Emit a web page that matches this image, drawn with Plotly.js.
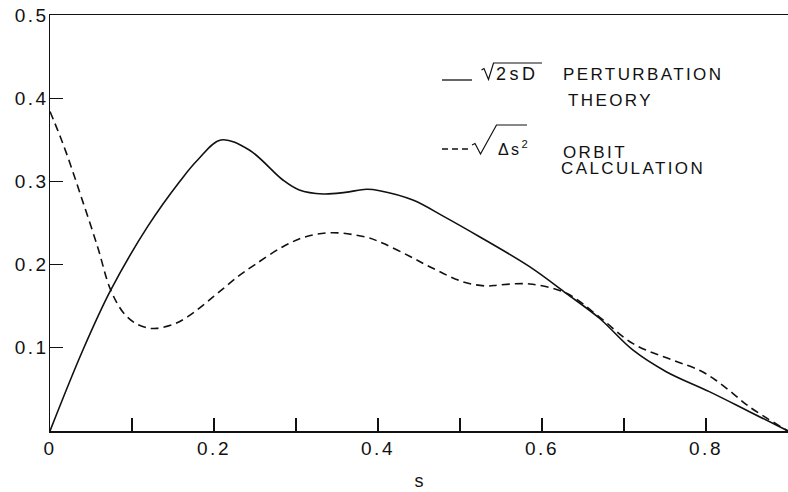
<!DOCTYPE html>
<html>
<head>
<meta charset="utf-8">
<script src="https://cdn.plot.ly/plotly-3.0.1.min.js"></script>
<style>
  html, body { margin: 0; padding: 0; background: #fff; }
  #chart { width: 788px; height: 492px; }
  .xtick text, .ytick text { letter-spacing: 2.5px; }
  .annotation-text { letter-spacing: 2.4px; }
</style>
</head>
<body>
<div id="chart"></div>
<script>
// ---- data ----
const sPerturbation = [0, 0.04, 0.0742, 0.119, 0.1596, 0.18, 0.2083, 0.243, 0.284, 0.304, 0.333, 0.36, 0.386, 0.402, 0.4425, 0.48, 0.5238, 0.5848, 0.6295, 0.67, 0.7107, 0.7515, 0.804, 0.853, 0.9];
const yPerturbation = [0, 0.097, 0.1695, 0.2456, 0.3017, 0.3257, 0.3498, 0.3377, 0.3017, 0.2897, 0.2849, 0.2868, 0.2905, 0.2888, 0.2776, 0.258, 0.2335, 0.1975, 0.1655, 0.1355, 0.0974, 0.0713, 0.0473, 0.0232, 0];

const sOrbit = [0, 0.01, 0.02, 0.038, 0.058, 0.074, 0.09, 0.105, 0.12, 0.13, 0.15, 0.168, 0.2, 0.229, 0.25, 0.284, 0.312, 0.345, 0.386, 0.406, 0.438, 0.463, 0.503, 0.532, 0.548, 0.585, 0.63, 0.67, 0.711, 0.76, 0.792, 0.812, 0.833, 0.853, 0.9];
const yOrbit = [0.384, 0.36, 0.334, 0.2816, 0.2215, 0.1695, 0.1415, 0.129, 0.1236, 0.1234, 0.128, 0.1374, 0.162, 0.1855, 0.2, 0.2215, 0.2335, 0.2383, 0.2328, 0.2256, 0.2103, 0.1975, 0.1795, 0.1743, 0.1755, 0.1767, 0.1655, 0.137, 0.105, 0.085, 0.073, 0.061, 0.045, 0.029, 0];

const xTickVals = [0, 0.1, 0.2, 0.3, 0.4, 0.5, 0.6, 0.7, 0.8, 0.9];
const xTickText = ['0', '', '0.2', '', '0.4', '', '0.6', '', '0.8', ''];
const yTickVals = [0.1, 0.2, 0.3, 0.4, 0.5];
const yTickText = ['0.1', '0.2', '0.3', '0.4', '0.5'];

const xTitle = 's';
const legendPerturbation = ['2sD', 'PERTURBATION', 'THEORY'];
const legendOrbit = ['Δs<sup>2</sup>', 'ORBIT', 'CALCULATION'];

// ---- layout helpers (pixel -> paper) ----
const W = 788, H = 492;
const M = {l: 50, r: 0, t: 15, b: 61};
const PW = W - M.l - M.r, PH = H - M.t - M.b;
const px = x => (x - M.l) / PW;
const py = y => (H - M.b - y) / PH;
const FONT = 'Liberation Sans, Arial, sans-serif';

const traces = [
  {x: sPerturbation, y: yPerturbation, type: 'scatter', mode: 'lines',
   line: {color: '#111', width: 1.6, shape: 'spline', smoothing: 1}, name: 'perturbation', showlegend: false},
  {x: sOrbit, y: yOrbit, type: 'scatter', mode: 'lines',
   line: {color: '#111', width: 1.6, shape: 'spline', smoothing: 1, dash: '8px,5px'}, name: 'orbit', showlegend: false}
];

function path(pts) {
  return pts.map((p, i) => (i ? 'L' : 'M') + px(p[0]).toFixed(5) + ',' + py(p[1]).toFixed(5)).join(' ');
}

const shapes = [
  // legend sample lines
  {type: 'line', xref: 'paper', yref: 'paper', x0: px(442), x1: px(472), y0: py(80), y1: py(80), line: {color: '#111', width: 1.3}},
  {type: 'line', xref: 'paper', yref: 'paper', x0: px(442), x1: px(472), y0: py(149), y1: py(149), line: {color: '#111', width: 1.3, dash: '6px,4px'}},
  // radical signs
  {type: 'path', xref: 'paper', yref: 'paper', path: path([[481.5,70],[484,68.5],[488.5,79.5],[493.5,63],[542,63]]), line: {color: '#111', width: 1.2}},
  {type: 'path', xref: 'paper', yref: 'paper', path: path([[472,145],[475,143.5],[480.5,154],[496.5,125],[527,125]]), line: {color: '#111', width: 1.2}}
];

const annFont = {family: FONT, size: 17, color: '#111'};
const annotations = [
  {xref: 'paper', yref: 'paper', x: px(494), y: py(73.5), xanchor: 'left', yanchor: 'middle', showarrow: false,
   text: '<span style="letter-spacing:3.5px">' + legendPerturbation[0] + '</span>', font: {family: FONT, size: 18, color: '#111'}},
  {xref: 'paper', yref: 'paper', x: px(561), y: py(74), xanchor: 'left', yanchor: 'middle', showarrow: false, text: legendPerturbation[1], font: annFont},
  {xref: 'paper', yref: 'paper', x: px(566), y: py(100), xanchor: 'left', yanchor: 'middle', showarrow: false, text: legendPerturbation[2], font: annFont},
  {xref: 'paper', yref: 'paper', x: px(496), y: py(148), xanchor: 'left', yanchor: 'middle', showarrow: false, text: legendOrbit[0], font: {family: FONT, size: 16, color: '#111'}},
  {xref: 'paper', yref: 'paper', x: px(561), y: py(152), xanchor: 'left', yanchor: 'middle', showarrow: false, text: legendOrbit[1], font: annFont},
  {xref: 'paper', yref: 'paper', x: px(559), y: py(168), xanchor: 'left', yanchor: 'middle', showarrow: false, text: legendOrbit[2], font: annFont}
];

const tickFont = {family: FONT, size: 19, color: '#111'};
const layout = {
  width: W, height: H,
  margin: M,
  paper_bgcolor: '#fff', plot_bgcolor: '#fff',
  showlegend: false,
  xaxis: {
    range: [0, 0.9], showgrid: false, zeroline: false,
    showline: true, linecolor: '#111', linewidth: 1.5, mirror: true,
    ticks: 'inside', ticklen: 13, tickwidth: 1.2, tickcolor: '#111',
    tickvals: xTickVals, ticktext: xTickText, tickfont: tickFont,
    title: {text: xTitle, font: {family: FONT, size: 18, color: '#111'}, standoff: 16}
  },
  yaxis: {
    range: [0, 0.5], showgrid: false, zeroline: false,
    showline: true, linecolor: '#111', linewidth: 1.5,
    ticks: 'inside', ticklen: 13, tickwidth: 1.2, tickcolor: '#111',
    tickvals: yTickVals, ticktext: yTickText, tickfont: tickFont
  },
  shapes: shapes,
  annotations: annotations
};

Plotly.newPlot('chart', traces, layout, {displayModeBar: false, staticPlot: true}).then(() => {
  // nudge y tick labels closer to the axis (compensates trailing letter-spacing)
  document.querySelectorAll('.ytick text').forEach(t => {
    const x = parseFloat(t.getAttribute('x') || '0');
    t.setAttribute('x', x + 4);
  });
});
</script>
</body>
</html>
